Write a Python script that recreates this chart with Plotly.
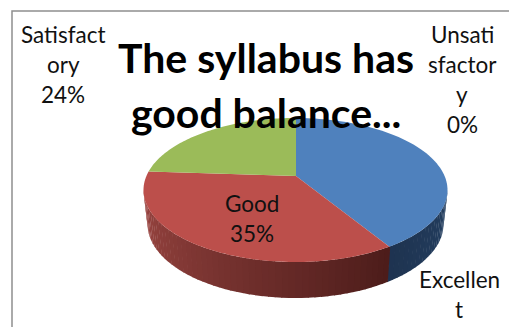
import math
import plotly.graph_objects as go

categories = ["Excellent", "Good", "Satisfactory", "Unsatisfactory"]
values = [41, 35, 24, 0]
top_colors = ["#4f81bd", "#bc4f4b", "#9bbb59", "#8064a2"]
title_lines = ["The syllabus has", "good balance..."]
label_lines = {
    "Satisfactory": ["Satisfact", "ory", "24%"],
    "Unsatisfactory": ["Unsati", "sfactor", "y", "0%"],
    "Good": ["Good", "35%"],
    "Excellent": ["Excellen", "t"],
}
label_pos = {
    "Satisfactory": (63, 34),
    "Unsatisfactory": (462, 34),
    "Good": (252, 203),
    "Excellent": (459, 279),
}

W, H = 509, 327
CX, CY, RX, RY = 295.5, 190, 152, 72
AX, AY = 296, 176
K = 0.48
BCX, BCY, BRX, BRY = 295.5, 224, 148, 74


def rim(theta):
    dx, dy = math.sin(theta), -math.cos(theta) * K
    ox, oy = (AX - CX) / RX, (AY - CY) / RY
    ux, uy = dx / RX, dy / RY
    a = ux * ux + uy * uy
    b = 2 * (ox * ux + oy * uy)
    c = ox * ox + oy * oy - 1
    s = (-b + math.sqrt(b * b - 4 * a * c)) / (2 * a)
    return AX + s * dx, AY + s * dy


def mix(c1, c2, f):
    return "rgb(%d,%d,%d)" % tuple(round(a + (b - a) * f) for a, b in zip(c1, c2))


fig = go.Figure()

total = sum(values)
split_theta = 2 * math.pi * values[0] / total
sx, sy = rim(split_theta)
split_phi = math.atan2((sy - CY) / RY, (sx - CX) / RX)
N = 70
for i in range(N):
    p0 = math.pi * i / N
    p1 = math.pi * (i + 1.15) / N
    mid = (p0 + p1) / 2
    if mid < split_phi:
        col = mix((0x24, 0x40, 0x62), (0x1e, 0x33, 0x50), mid / split_phi)
    else:
        col = mix((0x4c, 0x1c, 0x1a), (0x9c, 0x46, 0x42), (mid - split_phi) / (math.pi - split_phi))
    xs = [CX + RX * math.cos(p0), CX + RX * math.cos(p1), BCX + BRX * math.cos(p1), BCX + BRX * math.cos(p0)]
    ys = [CY + RY * math.sin(p0), CY + RY * math.sin(p1), BCY + BRY * math.sin(p1), BCY + BRY * math.sin(p0)]
    fig.add_trace(go.Scatter(x=xs, y=ys, fill="toself", fillcolor=col, mode="none", hoverinfo="skip"))

cum = 0
for cat, val, col in zip(categories, values, top_colors):
    if val == 0:
        continue
    t0, t1 = 2 * math.pi * cum / total, 2 * math.pi * (cum + val) / total
    pts = [rim(t0 + (t1 - t0) * j / 80) for j in range(81)]
    xs = [AX] + [p[0] for p in pts] + [AX]
    ys = [AY] + [p[1] for p in pts] + [AY]
    fig.add_trace(go.Scatter(x=xs, y=ys, fill="toself", fillcolor=col, mode="none", name=cat, hoverinfo="skip"))
    cum += val

ann = []
for line, y in zip(title_lines, (57, 112)):
    ann.append(dict(x=265.5, y=y, text="<b>%s</b>" % line, showarrow=False, font=dict(family="Lato", size=41, color="#000000")))
for cat, lines in label_lines.items():
    x0, y0 = label_pos[cat]
    for i, line in enumerate(lines):
        ann.append(dict(x=x0, y=y0 + i * 30.3, text=line, showarrow=False, font=dict(family="Lato", size=22.5, color="#111111")))

fig.update_layout(
    width=W, height=H, margin=dict(l=0, r=0, t=0, b=0), autosize=False,
    showlegend=False, paper_bgcolor="white", plot_bgcolor="white",
    xaxis=dict(range=[0, W], visible=False, fixedrange=True),
    yaxis=dict(range=[H, 0], visible=False, fixedrange=True),
    annotations=ann,
    shapes=[dict(type="path", path="M 12 327 L 12 11 L 509 11", line=dict(color="#8f8f8f", width=1.5))],
)
fig.write_html("out.html", config={"displayModeBar": False},
               post_script="document.body.style.margin='0';document.body.style.overflow='hidden';")
